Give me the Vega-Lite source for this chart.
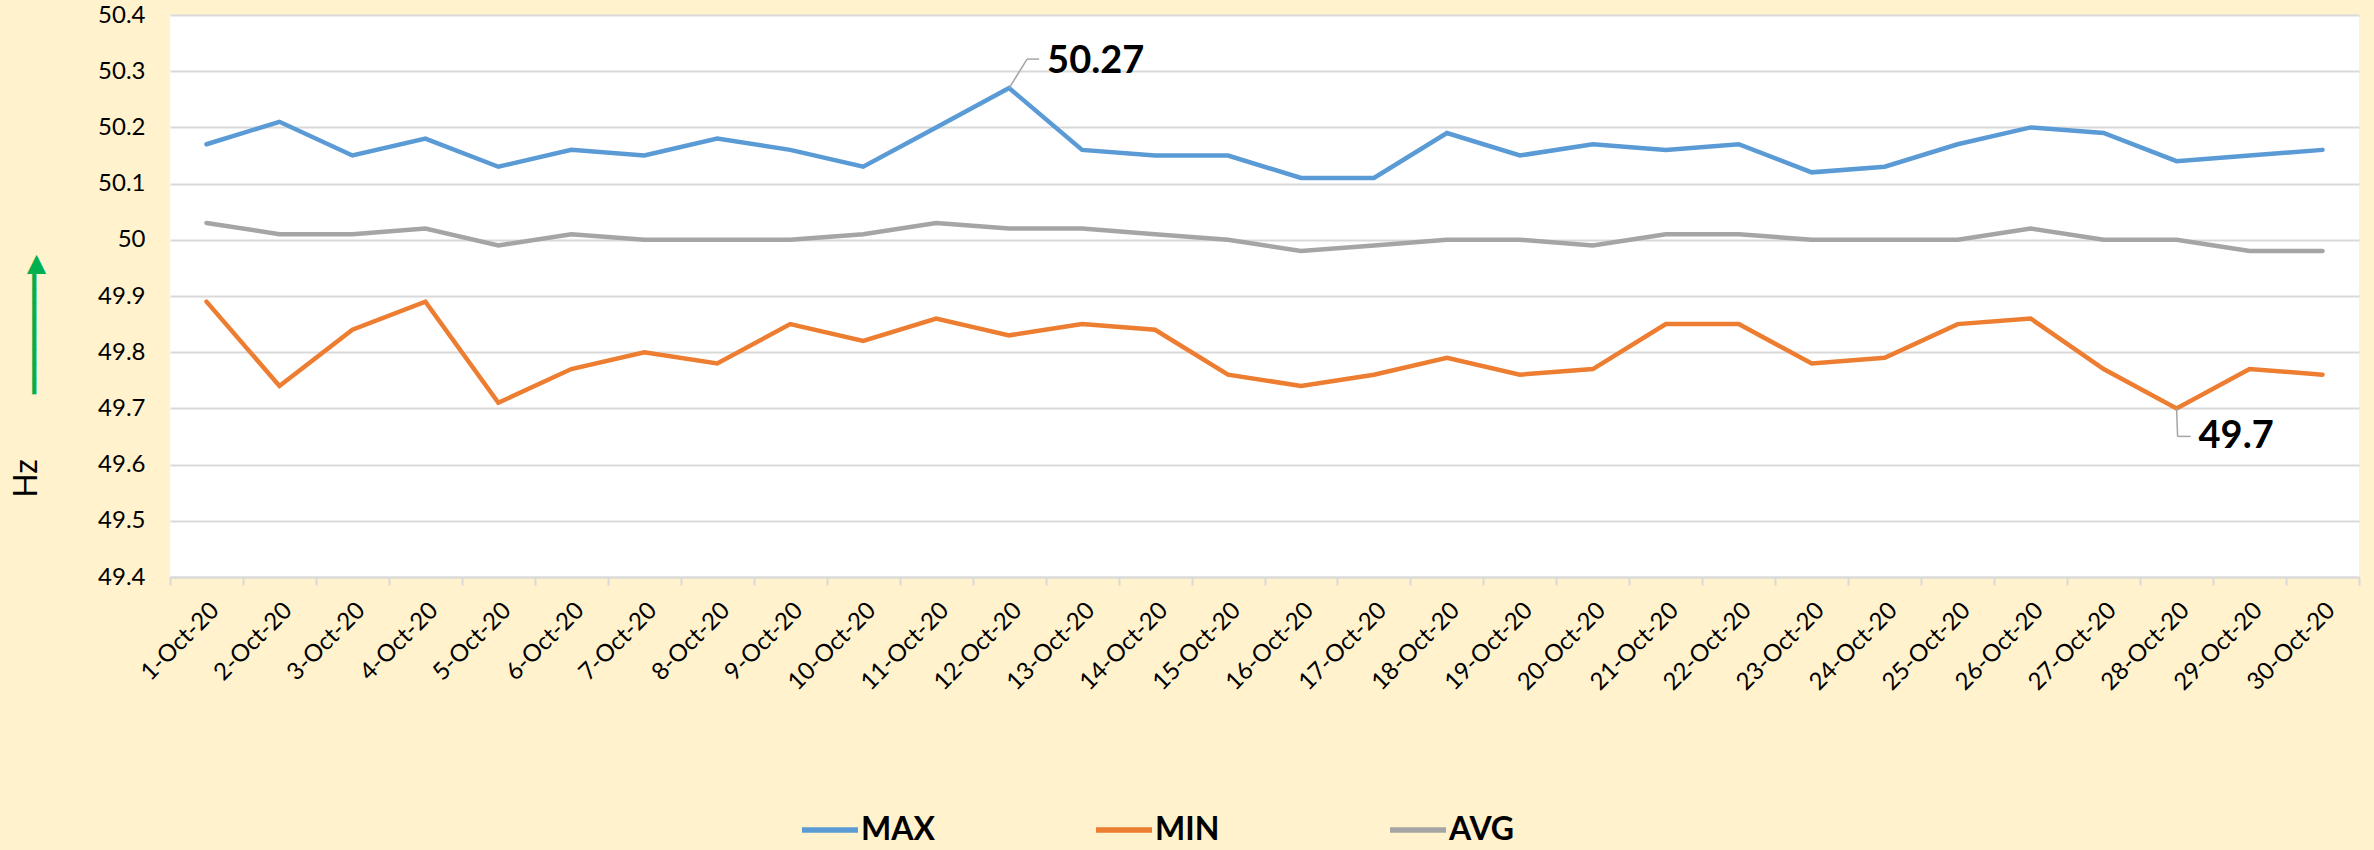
{
  "$schema": "https://vega.github.io/schema/vega-lite/v6.json",
  "width": 2189,
  "height": 562,
  "autosize": {"type": "none"},
  "padding": {"left": 170, "top": 15, "right": 15, "bottom": 273},
  "background": "#FFF2CC",
  "config": {
    "view": {"fill": "white", "stroke": null},
    "font": "Lato"
  },
  "resolve": {"scale": {"y": "independent"}},
  "layer": [
    {
      "layer": [
        {
          "data": {"values": [
            {"date": "1-Oct-20", "series": "MAX", "value": 50.17},
            {"date": "2-Oct-20", "series": "MAX", "value": 50.21},
            {"date": "3-Oct-20", "series": "MAX", "value": 50.15},
            {"date": "4-Oct-20", "series": "MAX", "value": 50.18},
            {"date": "5-Oct-20", "series": "MAX", "value": 50.13},
            {"date": "6-Oct-20", "series": "MAX", "value": 50.16},
            {"date": "7-Oct-20", "series": "MAX", "value": 50.15},
            {"date": "8-Oct-20", "series": "MAX", "value": 50.18},
            {"date": "9-Oct-20", "series": "MAX", "value": 50.16},
            {"date": "10-Oct-20", "series": "MAX", "value": 50.13},
            {"date": "11-Oct-20", "series": "MAX", "value": 50.20},
            {"date": "12-Oct-20", "series": "MAX", "value": 50.27},
            {"date": "13-Oct-20", "series": "MAX", "value": 50.16},
            {"date": "14-Oct-20", "series": "MAX", "value": 50.15},
            {"date": "15-Oct-20", "series": "MAX", "value": 50.15},
            {"date": "16-Oct-20", "series": "MAX", "value": 50.11},
            {"date": "17-Oct-20", "series": "MAX", "value": 50.11},
            {"date": "18-Oct-20", "series": "MAX", "value": 50.19},
            {"date": "19-Oct-20", "series": "MAX", "value": 50.15},
            {"date": "20-Oct-20", "series": "MAX", "value": 50.17},
            {"date": "21-Oct-20", "series": "MAX", "value": 50.16},
            {"date": "22-Oct-20", "series": "MAX", "value": 50.17},
            {"date": "23-Oct-20", "series": "MAX", "value": 50.12},
            {"date": "24-Oct-20", "series": "MAX", "value": 50.13},
            {"date": "25-Oct-20", "series": "MAX", "value": 50.17},
            {"date": "26-Oct-20", "series": "MAX", "value": 50.20},
            {"date": "27-Oct-20", "series": "MAX", "value": 50.19},
            {"date": "28-Oct-20", "series": "MAX", "value": 50.14},
            {"date": "29-Oct-20", "series": "MAX", "value": 50.15},
            {"date": "30-Oct-20", "series": "MAX", "value": 50.16},
            {"date": "1-Oct-20", "series": "MIN", "value": 49.89},
            {"date": "2-Oct-20", "series": "MIN", "value": 49.74},
            {"date": "3-Oct-20", "series": "MIN", "value": 49.84},
            {"date": "4-Oct-20", "series": "MIN", "value": 49.89},
            {"date": "5-Oct-20", "series": "MIN", "value": 49.71},
            {"date": "6-Oct-20", "series": "MIN", "value": 49.77},
            {"date": "7-Oct-20", "series": "MIN", "value": 49.80},
            {"date": "8-Oct-20", "series": "MIN", "value": 49.78},
            {"date": "9-Oct-20", "series": "MIN", "value": 49.85},
            {"date": "10-Oct-20", "series": "MIN", "value": 49.82},
            {"date": "11-Oct-20", "series": "MIN", "value": 49.86},
            {"date": "12-Oct-20", "series": "MIN", "value": 49.83},
            {"date": "13-Oct-20", "series": "MIN", "value": 49.85},
            {"date": "14-Oct-20", "series": "MIN", "value": 49.84},
            {"date": "15-Oct-20", "series": "MIN", "value": 49.76},
            {"date": "16-Oct-20", "series": "MIN", "value": 49.74},
            {"date": "17-Oct-20", "series": "MIN", "value": 49.76},
            {"date": "18-Oct-20", "series": "MIN", "value": 49.79},
            {"date": "19-Oct-20", "series": "MIN", "value": 49.76},
            {"date": "20-Oct-20", "series": "MIN", "value": 49.77},
            {"date": "21-Oct-20", "series": "MIN", "value": 49.85},
            {"date": "22-Oct-20", "series": "MIN", "value": 49.85},
            {"date": "23-Oct-20", "series": "MIN", "value": 49.78},
            {"date": "24-Oct-20", "series": "MIN", "value": 49.79},
            {"date": "25-Oct-20", "series": "MIN", "value": 49.85},
            {"date": "26-Oct-20", "series": "MIN", "value": 49.86},
            {"date": "27-Oct-20", "series": "MIN", "value": 49.77},
            {"date": "28-Oct-20", "series": "MIN", "value": 49.70},
            {"date": "29-Oct-20", "series": "MIN", "value": 49.77},
            {"date": "30-Oct-20", "series": "MIN", "value": 49.76},
            {"date": "1-Oct-20", "series": "AVG", "value": 50.03},
            {"date": "2-Oct-20", "series": "AVG", "value": 50.01},
            {"date": "3-Oct-20", "series": "AVG", "value": 50.01},
            {"date": "4-Oct-20", "series": "AVG", "value": 50.02},
            {"date": "5-Oct-20", "series": "AVG", "value": 49.99},
            {"date": "6-Oct-20", "series": "AVG", "value": 50.01},
            {"date": "7-Oct-20", "series": "AVG", "value": 50.00},
            {"date": "8-Oct-20", "series": "AVG", "value": 50.00},
            {"date": "9-Oct-20", "series": "AVG", "value": 50.00},
            {"date": "10-Oct-20", "series": "AVG", "value": 50.01},
            {"date": "11-Oct-20", "series": "AVG", "value": 50.03},
            {"date": "12-Oct-20", "series": "AVG", "value": 50.02},
            {"date": "13-Oct-20", "series": "AVG", "value": 50.02},
            {"date": "14-Oct-20", "series": "AVG", "value": 50.01},
            {"date": "15-Oct-20", "series": "AVG", "value": 50.00},
            {"date": "16-Oct-20", "series": "AVG", "value": 49.98},
            {"date": "17-Oct-20", "series": "AVG", "value": 49.99},
            {"date": "18-Oct-20", "series": "AVG", "value": 50.00},
            {"date": "19-Oct-20", "series": "AVG", "value": 50.00},
            {"date": "20-Oct-20", "series": "AVG", "value": 49.99},
            {"date": "21-Oct-20", "series": "AVG", "value": 50.01},
            {"date": "22-Oct-20", "series": "AVG", "value": 50.01},
            {"date": "23-Oct-20", "series": "AVG", "value": 50.00},
            {"date": "24-Oct-20", "series": "AVG", "value": 50.00},
            {"date": "25-Oct-20", "series": "AVG", "value": 50.00},
            {"date": "26-Oct-20", "series": "AVG", "value": 50.02},
            {"date": "27-Oct-20", "series": "AVG", "value": 50.00},
            {"date": "28-Oct-20", "series": "AVG", "value": 50.00},
            {"date": "29-Oct-20", "series": "AVG", "value": 49.98},
            {"date": "30-Oct-20", "series": "AVG", "value": 49.98}
          ]},
          "mark": {"type": "line", "strokeWidth": 4.5, "strokeCap": "round"},
          "encoding": {
            "x": {
              "field": "date", "type": "ordinal", "sort": null, "title": null,
              "axis": {
                "labelAngle": -45, "labelFont": "Lato", "labelFontSize": 24, "labelColor": "#000000",
                "labelPadding": 13, "tickBand": "extent", "tickSize": 8, "tickColor": "#D9D9D9", "tickWidth": 2,
                "domainColor": "#D9D9D9", "domainWidth": 2, "grid": false, "labelOverlap": false
              }
            },
            "y": {
              "field": "value", "type": "quantitative",
              "scale": {"domain": [49.4, 50.4], "nice": false, "zero": false},
              "axis": {
                "values": [49.4, 49.5, 49.6, 49.7, 49.8, 49.9, 50.0, 50.1, 50.2, 50.3, 50.4],
                "format": ".1~f", "labelFont": "Lato", "labelFontSize": 24, "labelColor": "#000000",
                "labelPadding": 25, "ticks": false, "domain": false,
                "grid": true, "gridColor": "#D9D9D9", "gridWidth": 2,
                "title": "Hz", "titleFont": "Lato", "titleFontSize": 32, "titleFontWeight": "normal",
                "titleColor": "#000000", "titleAngle": -90, "titleAlign": "center", "titleBaseline": "middle",
                "titleX": -144, "titleY": 463
              }
            },
            "color": {
              "field": "series", "type": "nominal",
              "scale": {"domain": ["MAX", "MIN", "AVG"], "range": ["#5B9BD5", "#ED7D31", "#A5A5A5"]},
              "legend": {
                "title": null, "orient": "none", "direction": "horizontal", "legendX": 629, "legendY": 784,
                "symbolType": "stroke", "symbolSize": 3136, "symbolStrokeWidth": 5.5,
                "labelFont": "Lato", "labelFontSize": 32, "labelFontWeight": "bold", "labelColor": "#000000",
                "labelOffset": 0, "gridAlign": "all", "columnPadding": 150, "padding": 0
              }
            }
          }
        },
        {
          "data": {"values": [{"date": "12-Oct-20", "value": 50.27, "label": "50.27"}]},
          "mark": {"type": "text", "align": "left", "baseline": "middle", "dx": 38, "dy": -26, "font": "Lato", "fontSize": 38, "fontWeight": "bold", "color": "#000000"},
          "encoding": {
            "x": {"field": "date", "type": "ordinal", "sort": null},
            "y": {"field": "value", "type": "quantitative"},
            "text": {"field": "label"}
          }
        },
        {
          "data": {"values": [{"date": "12-Oct-20", "value": 50.27}]},
          "mark": {"type": "rule", "color": "#A5A5A5", "strokeWidth": 1.5, "x2Offset": 18, "y2Offset": -29},
          "encoding": {
            "x": {"field": "date", "type": "ordinal", "sort": null},
            "x2": {"field": "date"},
            "y": {"field": "value", "type": "quantitative"},
            "y2": {"field": "value"}
          }
        },
        {
          "data": {"values": [{"date": "12-Oct-20", "value": 50.27}]},
          "mark": {"type": "rule", "color": "#A5A5A5", "strokeWidth": 1.5, "xOffset": 18, "yOffset": -29, "x2Offset": 30, "y2Offset": -29},
          "encoding": {
            "x": {"field": "date", "type": "ordinal", "sort": null},
            "x2": {"field": "date"},
            "y": {"field": "value", "type": "quantitative"},
            "y2": {"field": "value"}
          }
        },
        {
          "data": {"values": [{"date": "28-Oct-20", "value": 49.7}]},
          "mark": {"type": "rule", "color": "#A5A5A5", "strokeWidth": 1.5, "x2Offset": 1, "y2Offset": 28},
          "encoding": {
            "x": {"field": "date", "type": "ordinal", "sort": null},
            "x2": {"field": "date"},
            "y": {"field": "value", "type": "quantitative"},
            "y2": {"field": "value"}
          }
        },
        {
          "data": {"values": [{"date": "28-Oct-20", "value": 49.7}]},
          "mark": {"type": "rule", "color": "#A5A5A5", "strokeWidth": 1.5, "xOffset": 1, "yOffset": 28, "x2Offset": 14, "y2Offset": 28},
          "encoding": {
            "x": {"field": "date", "type": "ordinal", "sort": null},
            "x2": {"field": "date"},
            "y": {"field": "value", "type": "quantitative"},
            "y2": {"field": "value"}
          }
        }
      ]
    },
    {
      "data": {"values": [{"date": "28-Oct-20", "value": 49.7, "label": "49.7"}]},
      "mark": {"type": "text", "align": "left", "baseline": "middle", "dx": 22, "dy": 29, "font": "Lato", "fontSize": 38, "fontWeight": "bold", "color": "#000000"},
      "encoding": {
        "x": {"field": "date", "type": "ordinal", "sort": null},
        "y": {
          "field": "value", "type": "quantitative",
          "scale": {"domain": [49.4, 50.4], "nice": false, "zero": false},
          "axis": {
            "orient": "left", "labels": false, "ticks": false, "domain": false, "grid": false,
            "title": "━━━━━━━━▶", "titleFont": "DejaVu Sans", "titleFontSize": 25, "titleFontWeight": "normal",
            "titleColor": "#00B050", "titleAngle": -90, "titleAlign": "center", "titleBaseline": "middle",
            "titleX": -136, "titleY": 309
          }
        },
        "text": {"field": "label"}
      }
    }
  ]
}
